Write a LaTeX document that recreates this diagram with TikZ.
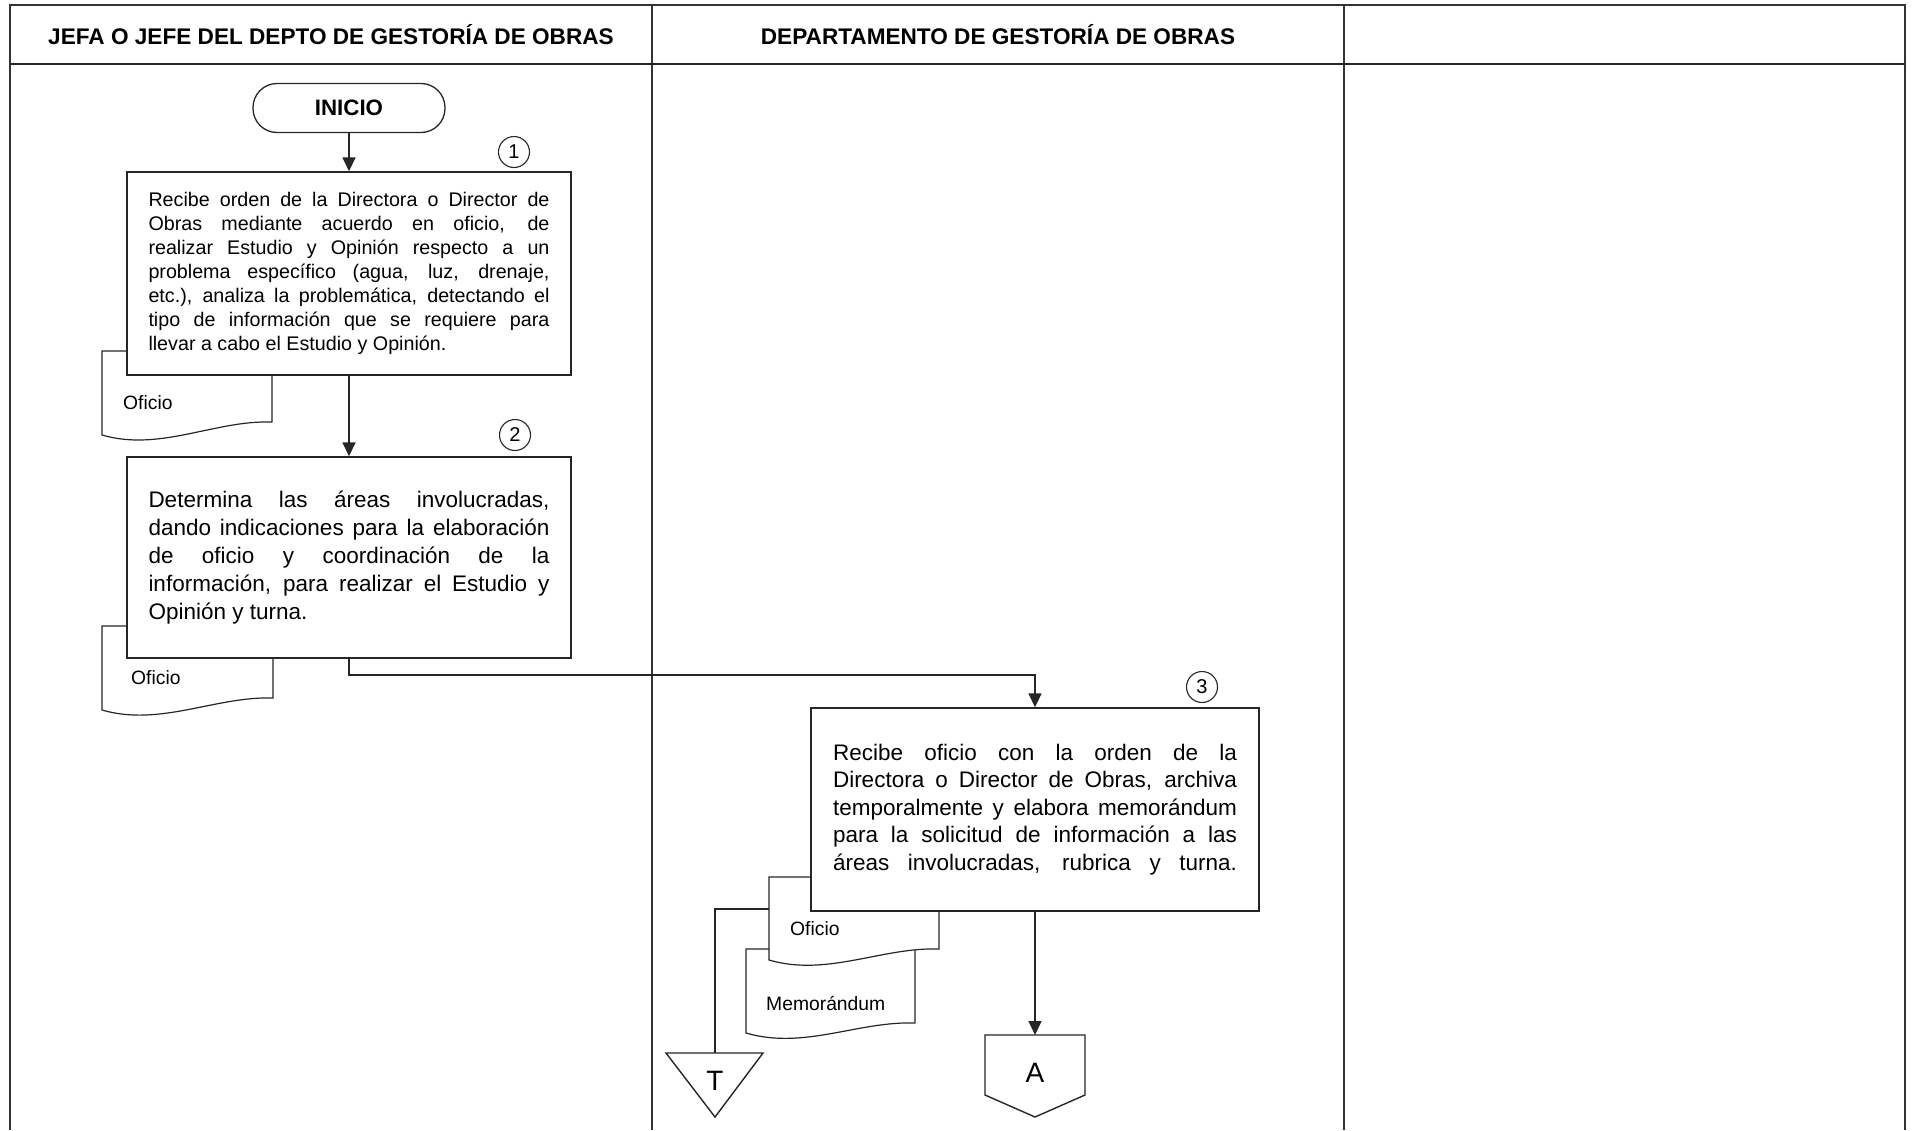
\documentclass[tikz,border=0pt]{standalone}
\usepackage{fontspec}
\setmainfont{Liberation Sans}
\usetikzlibrary{arrows.meta}

% one justified line of a fixed width
\newcommand\jl[2]{\makebox[#1][s]{#2}}

\begin{document}
\begin{tikzpicture}[x=1pt,y=-1pt,
  frame/.style={line width=1.8pt, draw=black!80},
  stepbox/.style={draw=black!85, line width=1.4pt, fill=white, inner sep=0pt, align=left},
  num/.style={circle, draw=black!85, line width=1.1pt, minimum size=31pt, inner sep=0pt, font=\fontsize{20}{20}\selectfont},
  arr/.style={line width=1.6pt, draw=black!85, -{Triangle[length=14pt,width=13pt]}},
  wire/.style={line width=1.8pt, draw=black!85},
  docshape/.style={draw=black!85, line width=1.2pt, fill=white},
  doclabel/.style={anchor=west, inner sep=0pt, font=\fontsize{19.3}{22}\selectfont},
  headtxt/.style={font=\bfseries\fontsize{22.6}{26}\selectfont},
  symtxt/.style={inner sep=0pt, font=\fontsize{28}{30}\selectfont},
]
\useasboundingbox (0,0) rectangle (1913,1130);

% swimlane frame
\draw[frame] (10,1130) -- (10,5) -- (1905,5) -- (1905,1130);
\draw[frame] (652,5) -- (652,1130);
\draw[frame] (1344,5) -- (1344,1130);
\draw[line width=2.6pt, draw=black!85] (10,64) -- (1905,64);

\node[headtxt] (h1) at (331,35) {JEFA O JEFE DEL DEPTO DE GESTORÍA DE OBRAS};
\node[headtxt] (h2) at (998,35) {DEPARTAMENTO DE GESTORÍA DE OBRAS};

% start terminal
\node[draw=black!85, line width=1.3pt, rounded corners=24pt, minimum width=192pt,
      minimum height=49pt, font=\bfseries\fontsize{22.3}{26}\selectfont] (inicio) at (349,108) {INICIO};

% documents (drawn below the step boxes)
\draw[docshape] (102,351) -- (272,351) -- (272,422) .. controls (215,420) and (160,452) .. (102,435) -- cycle;
\node[doclabel] (d1) at (123,403) {Oficio};
\draw[docshape] (102,626) -- (273,626) -- (273,698) .. controls (216,696) and (160,727) .. (102,710) -- cycle;
\node[doclabel] (d2) at (131,678) {Oficio};
\draw[docshape] (746,949) -- (915,949) -- (915,1023) .. controls (858,1021) and (804,1050) .. (746,1033) -- cycle;
\node[doclabel] (d4) at (766,1003) {Memorándum};
\draw[docshape] (769,877) -- (939,877) -- (939,949) .. controls (882,947) and (827,977) .. (769,960) -- cycle;
\node[doclabel] (d3) at (790,929) {Oficio};
\coordinate (ofleft) at (769,909);

% step 1
\node[stepbox, minimum width=444pt, minimum height=203pt, font=\fontsize{19.7}{24}\selectfont] (b1) at (349,273.5) {%
\jl{401pt}{Recibe orden de la Directora o Director de}\\
\jl{401pt}{Obras mediante acuerdo en oficio, de}\\
\jl{401pt}{realizar Estudio y Opinión respecto a un}\\
\jl{401pt}{problema específico (agua, luz, drenaje,}\\
\jl{401pt}{etc.), analiza la problemática, detectando el}\\
\jl{401pt}{tipo de información que se requiere para}\\
llevar a cabo el Estudio y Opinión.};
\node[num] (n1) at (514,152) {1};

% step 2
\node[stepbox, minimum width=444pt, minimum height=201pt, font=\fontsize{22.5}{28}\selectfont] (b2) at (349,557.5) {%
\jl{401pt}{Determina las áreas involucradas,}\\
\jl{401pt}{dando indicaciones para la elaboración}\\
\jl{401pt}{de oficio y coordinación de la}\\
\jl{401pt}{información, para realizar el Estudio y}\\
Opinión y turna.};
\node[num] (n2) at (515,435) {2};

% step 3
\node[stepbox, minimum width=448pt, minimum height=203pt, font=\fontsize{22.5}{27.5}\selectfont] (b3) at (1035,809.5) {%
\jl{404pt}{Recibe oficio con la orden de la}\\
\jl{404pt}{Directora o Director de Obras, archiva}\\
\jl{404pt}{temporalmente y elabora memorándum}\\
\jl{404pt}{para la solicitud de información a las}\\
\jl{404pt}{áreas involucradas, rubrica y turna.}};
\node[num] (n3) at (1202,687) {3};

% temporary file symbol
\draw[line width=1.4pt, draw=black!85, fill=white] (666,1053) -- (763,1053) -- (715,1117) -- cycle;
\coordinate (ttop) at (715,1053);
\node[symtxt] (tfile) at (715,1081) {T};

% off-page connector
\draw[line width=1.4pt, draw=black!85, fill=white] (985,1035) -- (1085,1035) -- (1085,1095) -- (1035,1117) -- (985,1095) -- cycle;
\coordinate (atop) at (1035,1035);
\node[symtxt] (conA) at (1035,1073) {A};

% connectors
\draw[arr] (inicio.south) -- (b1.north);
\draw[arr] (b1.south) -- (b2.north);
\draw[arr] (b2.south) -- ++(0,16) -| (b3.north);
\draw[arr] (b3.south) -- (atop);
\draw[wire] (ofleft) -| (ttop);
\end{tikzpicture}
\end{document}
